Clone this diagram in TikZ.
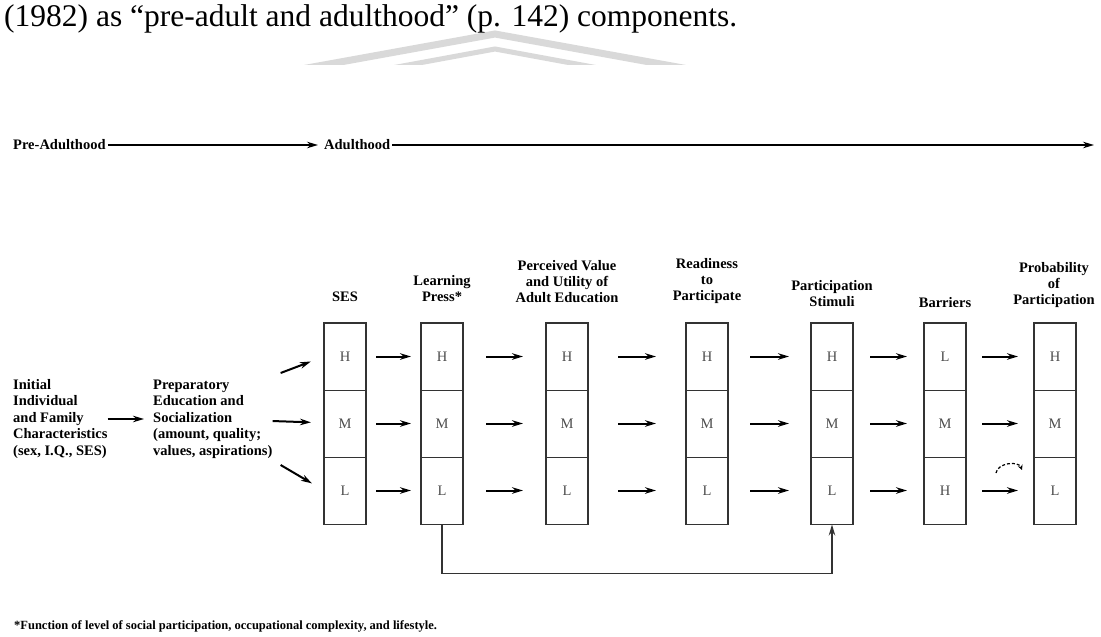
\documentclass[tikz,border=0pt]{standalone}
\usepackage{fontspec}
\setmainfont{Liberation Serif}
\usepackage{tikz}
\usetikzlibrary{positioning,arrows.meta,calc}

\begin{document}
\begin{tikzpicture}[x=1pt,y=-1pt,
  lab/.style={font=\fontsize{14.5}{16}\selectfont\bfseries, align=center, inner sep=0pt, anchor=south},
  side/.style={font=\fontsize{14.5}{16.5}\selectfont\bfseries, align=left, inner sep=0pt},
  cell/.style={draw=black!80, line width=1pt, minimum width=41pt, minimum height=67pt, inner sep=0pt, font=\fontsize{14.5}{14.5}\selectfont, text=black!70},
  flow/.style={line width=2pt, -{Stealth[length=11pt,width=6.5pt]}},
]
\fill[white] (0,0) rectangle (1101,637);
\useasboundingbox (0,0) rectangle (1101,637);

% faint watermark behind the page text
\begin{scope}
\clip (0,0) rectangle (1101,64);
\draw[gray!30, line width=7pt] (285,72) -- (495,34) -- (705,72);
\draw[gray!30, line width=5pt] (370,72) -- (495,49) -- (620,72);
\end{scope}

\node[anchor=base west, inner sep=0pt, font=\fontsize{31.5}{35}\selectfont] (cite) at (4,26)
    {(1982) as “pre-adult and adulthood” (p. 142) components.};

% time line
\node[side, anchor=west, inner sep=2pt] (pre) at (11,145) {Pre-Adulthood};
\node[side, anchor=west, inner sep=2pt] (adult) at (322,145) {Adulthood};
\coordinate (tend) at (1094,145);
\draw[flow, line width=1.4pt, shorten >=4pt] (pre) -- (adult);
\draw[flow, line width=1.4pt] (adult) -- (tend);

% columns of H/M/L
\foreach \x/\n/\a/\b/\c in {345/ses/H/M/L, 442/lp/H/M/L, 567/pv/H/M/L, 707/rp/H/M/L,
    832/ps/H/M/L, 945/ba/L/M/H, 1055/pp/H/M/L}{
  \node[cell] (\n1) at (\x,356.5) {\a};
  \node[cell] (\n2) at (\x,423.5) {\b};
  \node[cell] (\n3) at (\x,490.5) {\c};
  \draw[line width=1.8pt, black!80] (\n1.north west) rectangle (\n3.south east);
}

\node[lab] (seslab) at (345,302) {SES};
\node[lab] (lplab) at (442,302) {Learning\\Press*};
\node[lab] (pvlab) at (567,303) {Perceived Value\\and Utility of\\Adult Education};
\node[lab] (rplab) at (707,304) {Readiness\\to\\Participate};
\node[lab] (pslab) at (832,307) {Participation\\Stimuli};
\node[lab] (balab) at (945,308) {Barriers};
\node[lab] (pplab) at (1054,308) {Probability\\of\\Participation};

\foreach \a/\b/\s in {ses/lp/10, lp/pv/23, pv/rp/30, rp/ps/22, ps/ba/17, ba/pp/16}{
  \foreach \r in {1,2,3}
    \draw[flow, shorten <=\s pt, shorten >=\s pt] (\a\r.east) -- (\b\r.west);
}

% left side
\node[side, anchor=west] (init) at (13,419)
    {Initial\\Individual\\and Family\\Characteristics\\(sex, I.Q., SES)};
\node[side, anchor=west] (prep) at (153,419)
    {Preparatory\\Education and\\Socialization\\(amount, quality;\\values, aspirations)};
\draw[flow, shorten >=9pt] (init) -- (prep);
\draw[flow, shorten >=13pt] (prep) -- (ses2);
\draw[flow, shorten >=14pt] ([shift={(8,-46)}]prep.east) -- (ses1.west);
\draw[flow, shorten >=14pt] ([shift={(8,46)}]prep.east) -- (ses3.west);

% learning press feeds the stimuli
\draw[line width=1.6pt, black!80, -{Stealth[length=11pt,width=6.5pt]}] (lp3.south) -- ++(0,49) -| (ps3.south);

\coordinate (ca) at (996,473);
\coordinate (cb) at (1022,470);
\draw[densely dashed, line width=1.2pt, -{Stealth[length=5pt,width=5pt]}] (ca) to[bend left=75] (cb);

\node[anchor=base west, inner sep=0pt, font=\fontsize{12.5}{14}\selectfont\bfseries] (note) at (14,629)
    {*Function of level of social participation, occupational complexity, and lifestyle.};
\end{tikzpicture}
\end{document}
